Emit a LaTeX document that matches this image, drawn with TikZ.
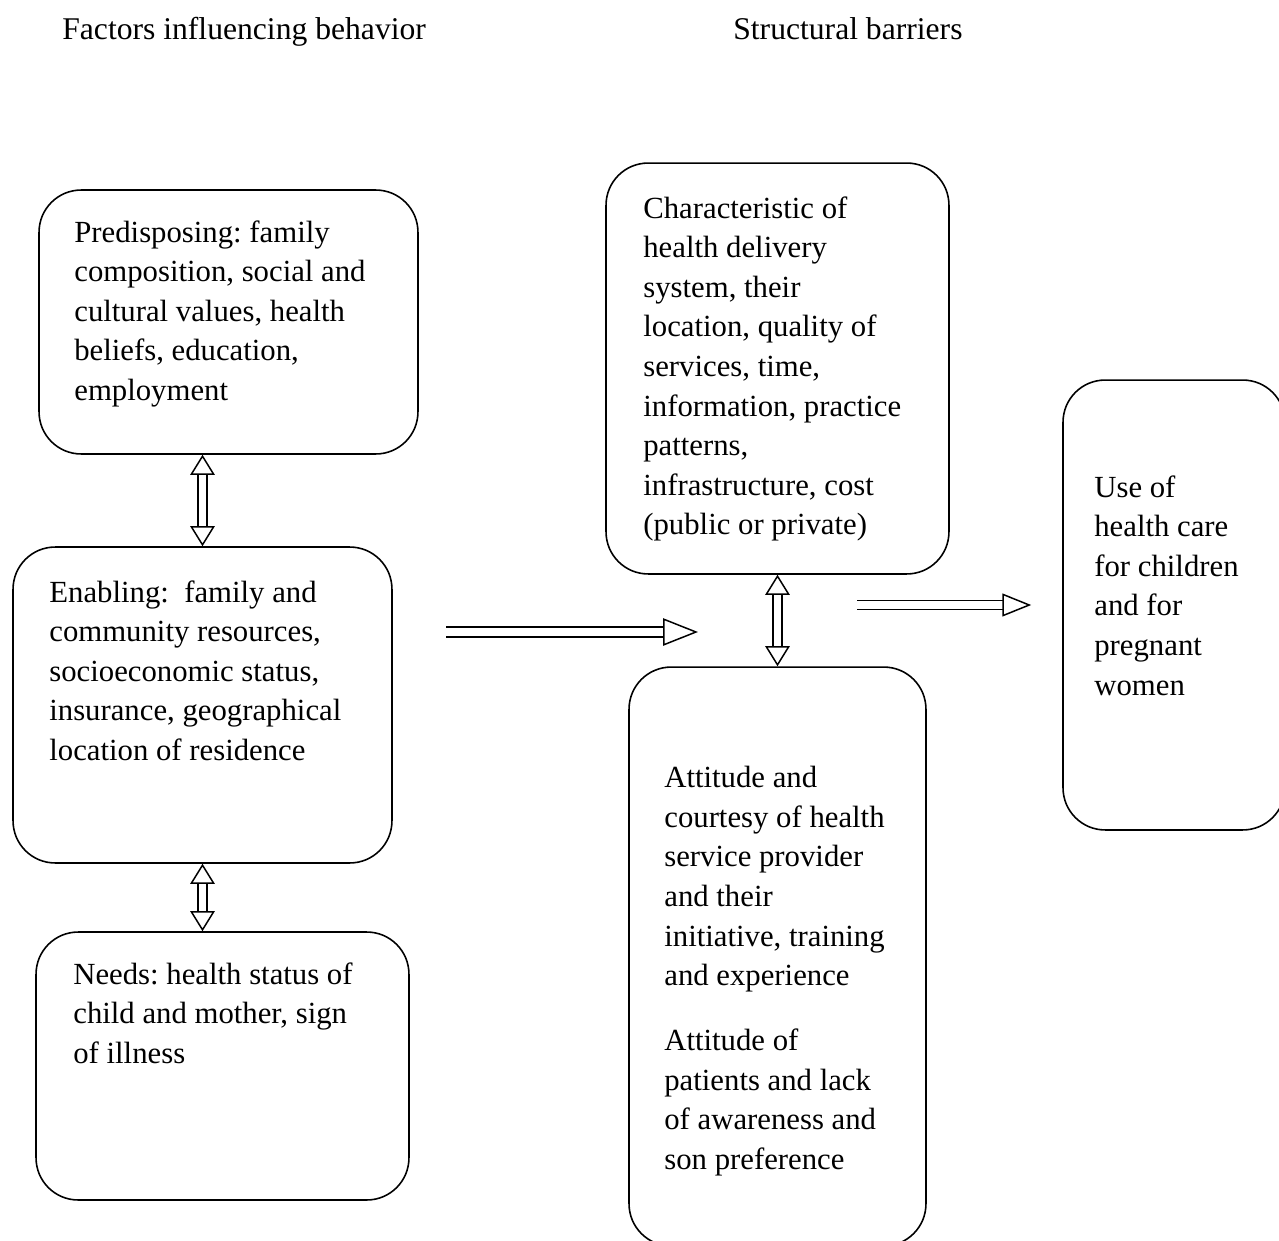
\documentclass[tikz,border=0pt]{standalone}
\usepackage{fontspec}
\setmainfont{Liberation Serif}
\usetikzlibrary{arrows.meta}
\frenchspacing

\begin{document}
\begin{tikzpicture}[
    x=0.02cm, y=-0.02cm,
    box/.style={rectangle, draw, line width=0.9pt, rounded corners=24pt},
    txt/.style={anchor=north west, align=left, inner sep=0pt, font=\fontsize{17.5}{22.55}\selectfont},
    head/.style={anchor=north west, inner sep=0pt, font=\fontsize{18}{21.6}\selectfont},
    dblblock/.style={double, double distance=4.5pt, line width=0.85pt, {Triangle[open, length=11.5pt, width=14pt]}-{Triangle[open, length=11.5pt, width=14pt]}},
    bigblock/.style={double, double distance=4.6pt, line width=0.85pt, -{Triangle[open, length=19.8pt, width=15.5pt]}},
    block/.style={double, double distance=4.3pt, line width=0.85pt, -{Triangle[open, length=16.4pt, width=13pt]}}
]
    \useasboundingbox (0,0) rectangle (1279,1241);

    \node[head] (h1) at (62,17) {Factors influencing behavior};
    \node[head] (h2) at (733,17) {Structural barriers};

    \node[box, minimum width=7.58cm, minimum height=5.28cm] (pre) at (228.5,322) {};
    \node[box, minimum width=7.58cm, minimum height=6.32cm] (ena) at (202.5,705) {};
    \node[box, minimum width=7.46cm, minimum height=5.36cm] (need) at (222.5,1066) {};
    \node[box, minimum width=6.86cm, minimum height=8.22cm] (char) at (777.5,368.5) {};
    \node[box, minimum width=5.94cm, minimum height=11.58cm] (att) at (777.5,956.5) {};
    \node[box, minimum width=4.44cm, minimum height=9.00cm] (use) at (1174,605) {};

    \node[txt] (pre-t) at (74,220) {Predisposing: family\\composition, social and\\cultural values, health\\beliefs, education,\\employment};
    \node[txt] (ena-t) at (49,580) {Enabling:\ \ family and\\community resources,\\socioeconomic status,\\insurance, geographical\\location of residence};
    \node[txt] (need-t) at (73,962) {Needs: health status of\\child and mother, sign\\of illness};
    \node[txt] (char-t) at (643,196) {Characteristic of\\health delivery\\system, their\\location, quality of\\services, time,\\information, practice\\patterns,\\infrastructure, cost\\(public or private)};
    \node[txt] (att-t) at (664,766) {Attitude and\\courtesy of health\\service provider\\and their\\initiative, training\\and experience\\[14.4pt]Attitude of\\patients and lack\\of awareness and\\son preference};
    \node[txt] (use-t) at (1094,475) {Use of\\health care\\for children\\and for\\pregnant\\women};

    \coordinate (mid-l) at (446,632);
    \coordinate (mid-r) at (698,632);
    \coordinate (out-l) at (857,605);

    \draw[dblblock] (ena.north |- pre.south) -- (ena.north);
    \draw[dblblock] (ena.south) -- (ena.south |- need.north);
    \draw[dblblock] (char.south) -- (att.north);
    \draw[bigblock] (mid-l) -- (mid-r);
    \draw[block, shorten >=0.62cm] (out-l) -- (use.west);
\end{tikzpicture}
\end{document}
